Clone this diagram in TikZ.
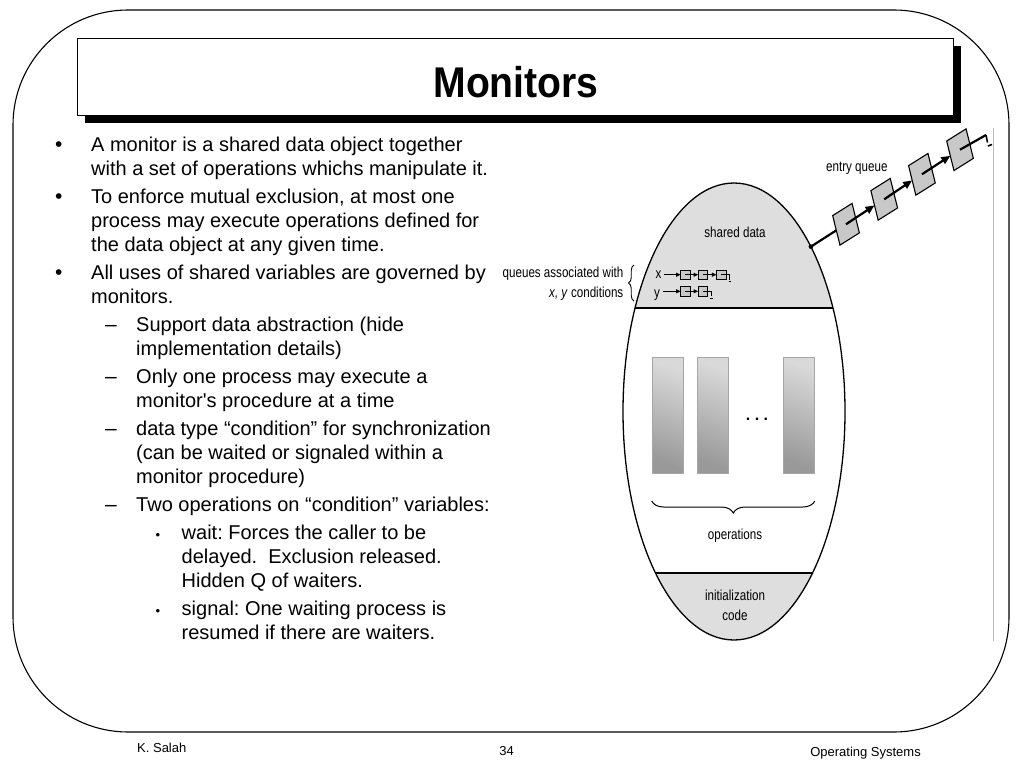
\documentclass[tikz,border=0pt]{standalone}
\usepackage{fontspec}
\setmainfont{Liberation Sans}
\newfontfamily\narrowfont[FakeStretch=0.8]{Liberation Sans}
\newfontfamily\titlefont[FakeStretch=0.91]{Liberation Sans}
\usetikzlibrary{arrows.meta,decorations.pathreplacing,shapes.geometric,calc}
\definecolor{capgray}{RGB}{222,222,222}
\definecolor{boxgray}{RGB}{200,200,200}
\frenchspacing
\begin{document}
\begin{tikzpicture}[x=1pt,y=-1pt,
  txt/.style={anchor=base west,inner sep=0pt,font=\fontsize{20}{24}\selectfont},
  bulA/.style={anchor=base,inner sep=0pt,font=\fontsize{21}{24}\selectfont},
  bulC/.style={anchor=base,inner sep=0pt,font=\fontsize{13}{15}\selectfont},
  foot/.style={anchor=base,inner sep=0pt,font=\fontsize{13}{15}\selectfont},
  lab/.style={inner sep=0pt,font=\narrowfont\fontsize{14.5}{18}\selectfont},
  opbox/.style={draw=gray!70,line width=0.6pt,minimum width=31pt,minimum height=116pt,inner sep=0pt,
    top color=gray!30,bottom color=gray!80,shading angle=-20},
  ebox/.style={draw,fill=boxgray,line width=1.1pt,inner sep=0pt,outer sep=0pt,
    minimum width=1pt,minimum height=1pt,cm={19.4,12.2,-7.3,29.5,(0,0)}},
  sbox/.style={draw,fill=boxgray,line width=0.7pt,inner sep=0pt,outer sep=0pt,minimum size=9.5pt},
  earrow/.style={line width=2.2pt,-{Triangle[length=9pt,width=7.5pt]}},
  eline/.style={line width=2.2pt},
  sarrow/.style={line width=0.9pt,-{Triangle[length=4.5pt,width=4pt]}},
  sline/.style={line width=0.8pt}]
\useasboundingbox (0,0) rectangle (1024,768);
\fill[white] (0,0) rectangle (1024,768);

% outer frame
\draw[line width=1.1pt,rounded corners=115pt] (13,10) rectangle (1009,732);
\draw[gray!55,line width=0.8pt] (993,128) -- (993,641);

% title
\fill[black] (85,46) rectangle (961,123);
\node[draw,fill=white,line width=0.8pt,inner sep=0pt,minimum width=876pt,minimum height=77pt] (titlebox) at (515,76.5) {};
\node[anchor=base,inner sep=0pt,font=\titlefont\bfseries\fontsize{43}{50}\selectfont] (title) at (516,97) {Monitors};

% bullets level 1
\node[bulA] (d1) at (58.7,151) {•};
\node[txt] (t1) at (91,151) {A monitor is a shared data object together};
\node[txt] (t2) at (91,175) {with a set of operations whichs manipulate it.};
\node[bulA] (d2) at (58.7,203) {•};
\node[txt] (t3) at (91,203) {To enforce mutual exclusion, at most one};
\node[txt] (t4) at (91,227) {process may execute operations defined for};
\node[txt] (t5) at (91,251) {the data object at any given time.};
\node[bulA] (d3) at (58.7,279) {•};
\node[txt] (t6) at (91,279) {All uses of shared variables are governed by};
\node[txt] (t7) at (91,303) {monitors.};
% level 2
\node[bulA] (d4) at (111,331) {–};
\node[txt] (t8) at (136,331) {Support data abstraction (hide};
\node[txt] (t9) at (136,355) {implementation details)};
\node[bulA] (d5) at (111,383) {–};
\node[txt] (t10) at (136,383) {Only one process may execute a};
\node[txt] (t11) at (136,407) {monitor\textquotesingle s procedure at a time};
\node[bulA] (d6) at (111,435) {–};
\node[txt] (t12) at (136,435) {data type “condition” for synchronization};
\node[txt] (t13) at (136,459) {(can be waited or signaled within a};
\node[txt] (t14) at (136,483) {monitor procedure)};
\node[bulA] (d7) at (111,511) {–};
\node[txt] (t15) at (136,511) {Two operations on “condition” variables:};
% level 3
\node[bulC] (d8) at (158,539) {•};
\node[txt] (t16) at (181.5,539) {wait: Forces the caller to be};
\node[txt] (t17) at (181.5,563) {delayed.\hspace{5.5pt} Exclusion released.};
\node[txt] (t18) at (181.5,587) {Hidden Q of waiters.};
\node[bulC] (d9) at (158,615) {•};
\node[txt] (t19) at (181.5,615) {signal: One waiting process is};
\node[txt] (t20) at (181.5,639) {resumed if there are waiters.};

% footer
\node[foot,anchor=base west] (f1) at (137,752) {K. Salah};
\node[foot] (f2) at (506.5,755) {34};
\node[foot,anchor=base east] (f3) at (921,756) {Operating Systems};

% monitor figure
\begin{scope}
  \clip (734,411.5) ellipse [x radius=111, y radius=228.5];
  \fill[white] (600,150) rectangle (870,680);
  \fill[capgray] (600,150) rectangle (870,308);
  \fill[capgray] (600,573) rectangle (870,680);
  \draw[line width=1.1pt] (600,308) -- (870,308);
  \draw[line width=1.1pt] (600,573) -- (870,573);
\end{scope}
\node[ellipse,draw,line width=1.3pt,minimum width=222pt,minimum height=457pt,inner sep=0pt,outer sep=0pt] (mon) at (734,411.5) {};

\node[lab,anchor=base] (sd) at (735,237) {shared data};
\node[opbox] (op1) at (667.5,415) {};
\node[opbox] (op2) at (712.5,415) {};
\node[opbox] (op3) at (799,415) {};
\node[inner sep=0pt,font=\bfseries\fontsize{16}{16}\selectfont] (dots) at (757,419) {. . .};
\draw[line width=1pt,decorate,decoration={brace,amplitude=12pt}] (op3.south east |- 0,501) -- (op1.south west |- 0,501);
\node[lab,anchor=base] (opl) at (735,539) {operations};
\node[lab,anchor=base] (in1) at (735,600) {initialization};
\node[lab,anchor=base] (in2) at (735,620) {code};

% condition queues
\node[lab,anchor=base east] (q1) at (623.5,277) {queues associated with};
\node[lab,anchor=base east] (q2) at (623.5,297) {\textit{x, y} conditions};
\draw[line width=0.9pt,decorate,decoration={brace,amplitude=5.5pt}] (634,301) -- (634,265);
\node[lab,anchor=base west] (xl) at (655.5,278) {x};
\node[lab,anchor=base west] (yl) at (654,297) {y};
\node[sbox] (sx1) at (685.3,274.7) {};
\node[sbox] (sx2) at (702.8,274.7) {};
\node[sbox] (sx3) at (721.2,274.7) {};
\node[sbox] (sy1) at (685.3,291.3) {};
\node[sbox] (sy2) at (702.8,291.3) {};
\draw[sarrow] ($(xl.east |- sx1.west)+(2.5,0)$) -- (sx1.west);
\draw[sarrow] (sx1.center) -- (sx2.west);
\draw[sarrow] (sx2.center) -- (sx3.west);
\draw[sline] (sx3.center) -- ++(8.5,0) -- ++(0,5);
\draw[sline] ($(sx3.center)+(7.5,7)$) -- ++(2.5,0);
\draw[sarrow] ($(yl.east |- sy1.west)+(3,0)$) -- (sy1.west);
\draw[sarrow] (sy1.center) -- (sy2.west);
\draw[sline] (sy2.center) -- ++(8.5,0) -- ++(0,5);
\draw[sline] ($(sy2.center)+(7.5,7)$) -- ++(2.5,0);

% entry queue
\node[lab,anchor=base west] (eq) at (826,171) {entry queue};
\node[ebox] (e1) at (846,224.25) {};
\node[ebox] (e2) at (884.2,199.3) {};
\node[ebox] (e3) at (921.9,174.3) {};
\node[ebox] (e4) at (960,149.7) {};
\draw[eline] (mon.65) -- (e1.west);
\fill (mon.65) circle (2.3pt);
\draw[earrow] (e1.center) -- (e2.west);
\draw[earrow] (e2.center) -- (e3.west);
\draw[earrow] (e3.center) -- (e4.west);
\coordinate (eend) at (986,135);
\draw[eline] (e4.center) -- (eend);
\draw[line width=1.6pt] (eend) -- ++(1.5,7.5);
\draw[line width=1.6pt] ($(eend)+(2,11)$) -- ++(4,-1.5);
\end{tikzpicture}
\end{document}
